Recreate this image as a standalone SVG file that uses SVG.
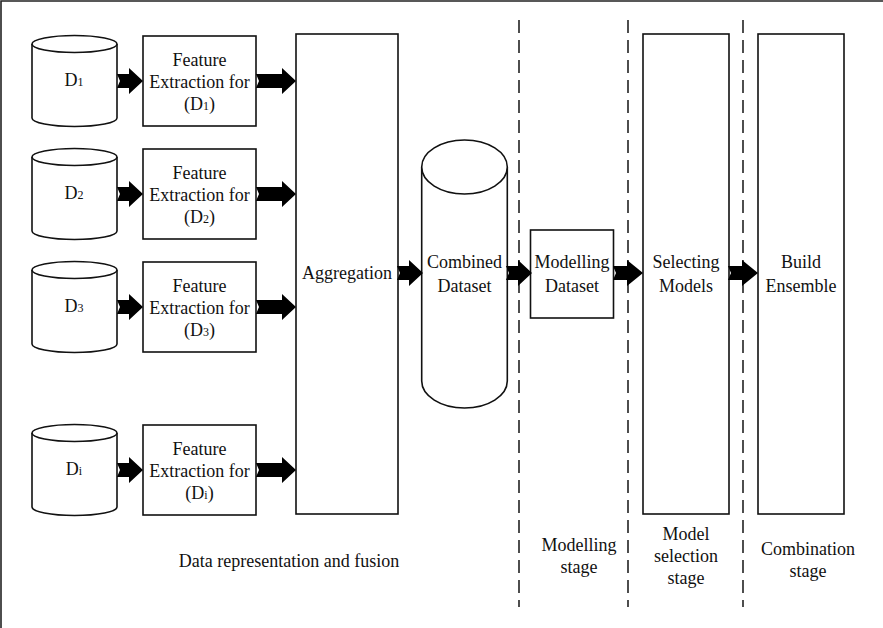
<svg xmlns="http://www.w3.org/2000/svg" width="883" height="628" viewBox="0 0 883 628" font-family="'Liberation Serif', 'Times New Roman', 'DejaVu Serif', serif">
  <defs>
    <style>
      .shape { fill: #fff; stroke: #111; stroke-width: 1.6; }
      .frame { stroke: #222; stroke-width: 1.6; fill: none; }
      .stage { stroke: #222; stroke-width: 1.6; stroke-dasharray: 13 7; fill: none; }
      .arrow { fill: #000; stroke: none; }
      text { font-family: 'Liberation Serif', 'Times New Roman', 'DejaVu Serif', serif; font-size: 18px; fill: #111; text-anchor: middle; }
      .sub { font-size: 12px; }
    </style>
    <!-- block arrow with a small notch at the tail; origin at tail centre -->
    <path id="blk" d="M0,-7 L12,-7 L12,-13 L26,0 L12,13 L12,7 L0,7 L3,0 Z"/>
    <path id="blkLong" d="M0,-7 L26,-7 L26,-13 L40,0 L26,13 L26,7 L0,7 L3,0 Z"/>
    <path id="blkMid" d="M0,-7 L14,-7 L14,-13 L30,0 L14,13 L14,7 L0,7 L3,0 Z"/>
  </defs>

  <!-- outer frame (top and left edges) -->
  <path class="frame" d="M1,628 L1,1 L883,1"/>

  <!-- stage separators -->
  <g id="separators">
    <line class="stage" x1="519" y1="20" x2="519" y2="607"/>
    <line class="stage" x1="628" y1="20" x2="628" y2="607"/>
    <line class="stage" x1="743" y1="20" x2="743" y2="607"/>
  </g>

  <!-- data sources -->
  <g id="d1">
    <path class="shape" d="M32,44 L32,118 A42.5,8.5 0 0 0 117,118 L117,44"/>
    <ellipse class="shape" cx="74.5" cy="44" rx="42.5" ry="8.5"/>
    <text x="74" y="86">D<tspan class="sub">1</tspan></text>
  </g>
  <g id="d2">
    <path class="shape" d="M32,157 L32,231 A42.5,8.5 0 0 0 117,231 L117,157"/>
    <ellipse class="shape" cx="74.5" cy="157" rx="42.5" ry="8.5"/>
    <text x="74" y="199">D<tspan class="sub">2</tspan></text>
  </g>
  <g id="d3">
    <path class="shape" d="M32,270 L32,344 A42.5,8.5 0 0 0 117,344 L117,270"/>
    <ellipse class="shape" cx="74.5" cy="270" rx="42.5" ry="8.5"/>
    <text x="74" y="312">D<tspan class="sub">3</tspan></text>
  </g>
  <g id="di">
    <path class="shape" d="M32,433 L32,507 A42.5,8.5 0 0 0 117,507 L117,433"/>
    <ellipse class="shape" cx="74.5" cy="433" rx="42.5" ry="8.5"/>
    <text x="74" y="475">D<tspan class="sub">i</tspan></text>
  </g>

  <!-- feature extraction boxes -->
  <g id="fe1">
    <rect class="shape" x="143" y="36" width="113" height="90"/>
    <text x="199.5" y="66">Feature</text>
    <text x="199.5" y="88">Extraction for</text>
    <text x="199.5" y="110">(D<tspan class="sub">1</tspan>)</text>
  </g>
  <g id="fe2">
    <rect class="shape" x="143" y="149" width="113" height="90"/>
    <text x="199.5" y="179">Feature</text>
    <text x="199.5" y="201">Extraction for</text>
    <text x="199.5" y="223">(D<tspan class="sub">2</tspan>)</text>
  </g>
  <g id="fe3">
    <rect class="shape" x="143" y="262" width="113" height="90"/>
    <text x="199.5" y="292">Feature</text>
    <text x="199.5" y="314">Extraction for</text>
    <text x="199.5" y="336">(D<tspan class="sub">3</tspan>)</text>
  </g>
  <g id="fei">
    <rect class="shape" x="143" y="425" width="113" height="90"/>
    <text x="199.5" y="455">Feature</text>
    <text x="199.5" y="477">Extraction for</text>
    <text x="199.5" y="499">(D<tspan class="sub">i</tspan>)</text>
  </g>

  <!-- aggregation -->
  <g id="aggregation">
    <rect class="shape" x="296" y="34" width="102" height="480"/>
    <text x="347" y="279">Aggregation</text>
  </g>

  <!-- combined dataset -->
  <g id="combined">
    <path class="shape" d="M421.7,167 L421.7,381 A42.8,27 0 0 0 507.3,381 L507.3,167"/>
    <ellipse class="shape" cx="464.5" cy="167" rx="42.8" ry="27"/>
    <text x="464.5" y="268">Combined</text>
    <text x="464.5" y="292">Dataset</text>
  </g>

  <!-- modelling dataset -->
  <g id="modelling">
    <rect class="shape" x="530.5" y="230" width="83" height="88"/>
    <text x="572" y="268">Modelling</text>
    <text x="572" y="292">Dataset</text>
  </g>

  <!-- selecting models -->
  <g id="selecting">
    <rect class="shape" x="643" y="34" width="86" height="480"/>
    <text x="686" y="268">Selecting</text>
    <text x="686" y="292">Models</text>
  </g>

  <!-- build ensemble -->
  <g id="ensemble">
    <rect class="shape" x="758" y="34" width="86" height="480"/>
    <text x="801" y="268">Build</text>
    <text x="801" y="292">Ensemble</text>
  </g>

  <!-- connectors -->
  <g id="connectors" class="arrow">
    <use href="#blk" x="117" y="81"/>
    <use href="#blk" x="117" y="194"/>
    <use href="#blk" x="117" y="307"/>
    <use href="#blk" x="117" y="470"/>
    <use href="#blkLong" x="256" y="81"/>
    <use href="#blkLong" x="256" y="194"/>
    <use href="#blkLong" x="256" y="307"/>
    <use href="#blkLong" x="256" y="470"/>
    <use href="#blk" x="397" y="273"/>
    <use href="#blk" x="506" y="273"/>
    <use href="#blkMid" x="613" y="273"/>
    <use href="#blkMid" x="728" y="273"/>
  </g>

  <!-- stage captions -->
  <g id="captions">
    <text x="289" y="567">Data representation and fusion</text>
    <text x="579" y="551">Modelling</text>
    <text x="579" y="573">stage</text>
    <text x="686" y="540">Model</text>
    <text x="686" y="562">selection</text>
    <text x="686" y="584">stage</text>
    <text x="808" y="555">Combination</text>
    <text x="808" y="577">stage</text>
  </g>
</svg>
